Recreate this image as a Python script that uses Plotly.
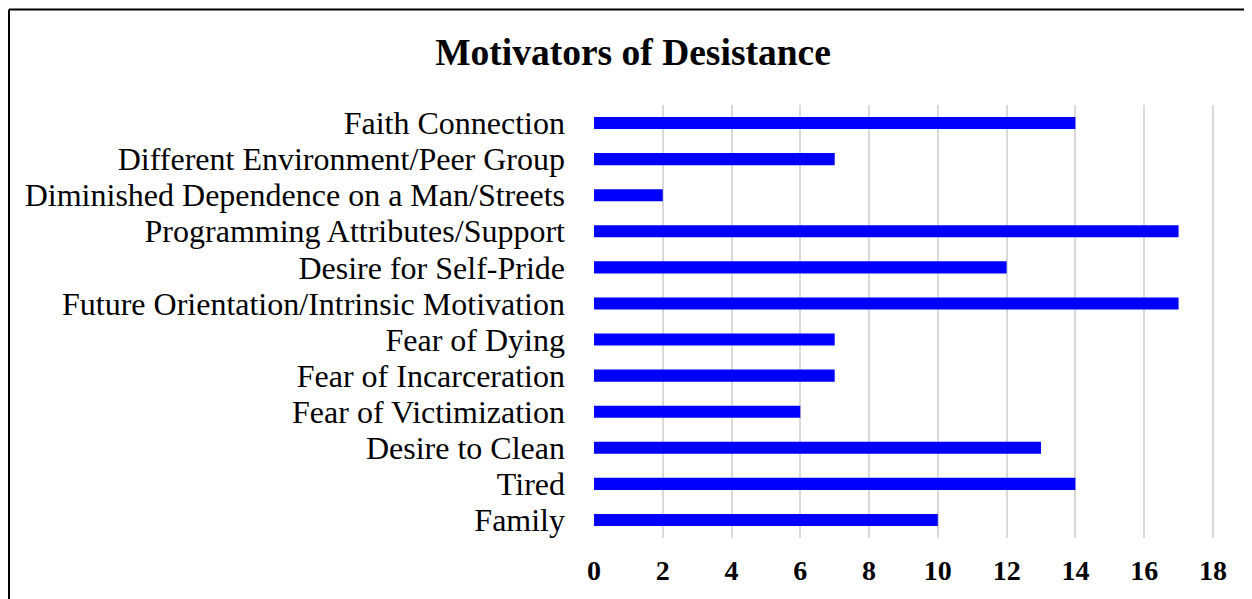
import plotly.graph_objects as go

categories = [
    "Family",
    "Tired",
    "Desire to Clean",
    "Fear of Victimization",
    "Fear of Incarceration",
    "Fear of Dying",
    "Future Orientation/Intrinsic Motivation",
    "Desire for Self-Pride",
    "Programming Attributes/Support",
    "Diminished Dependence on a Man/Streets",
    "Different Environment/Peer Group",
    "Faith Connection",
]
values = [10, 14, 13, 6, 7, 7, 17, 12, 17, 2, 7, 14]
x_ticks = [0, 2, 4, 6, 8, 10, 12, 14, 16, 18]

W, H = 1252, 599
OFF = 8  # page body margin offset
L, R, T, B = 594 - OFF, 1214 - OFF, 105 - OFF, 538 - OFF

fig = go.Figure(
    go.Bar(
        x=values,
        y=categories,
        orientation="h",
        marker=dict(color="#0000FF", line=dict(width=0)),
        hoverinfo="x+y",
    )
)


def px_to_paper_x(px):
    return (px - L) / (R - L)


def px_to_paper_y(py):
    return (B - py) / (B - T)


fig.update_layout(
    width=W,
    height=H,
    margin=dict(l=L, r=W - R, t=T, b=H - B, autoexpand=False),
    paper_bgcolor="white",
    plot_bgcolor="white",
    bargap=0.667,
    showlegend=False,
    title=dict(
        text="<b>Motivators of Desistance</b>",
        font=dict(family="Liberation Serif", size=37.5, color="black"),
        x=(633 - OFF) / W,
        xref="container",
        xanchor="center",
        y=1 - (52 - OFF) / H,
        yref="container",
        yanchor="middle",
    ),
    xaxis=dict(
        range=[0, 18.03],
        tickvals=x_ticks,
        ticktext=[f"<b>{v}</b>" for v in x_ticks],
        tickfont=dict(family="Liberation Serif", size=28, color="black"),
        showgrid=True,
        gridcolor="#d9d9d9",
        gridwidth=1.5,
        zeroline=False,
        showline=False,
        ticks="",
        ticklabelstandoff=13,
        fixedrange=True,
    ),
    yaxis=dict(
        type="category",
        tickmode="array",
        tickvals=categories,
        ticktext=categories,
        tickfont=dict(family="Liberation Serif", size=32, color="black"),
        showgrid=False,
        zeroline=False,
        showline=False,
        ticks="",
        ticklabelstandoff=28,
        fixedrange=True,
    ),
    shapes=[
        dict(type="line", xref="paper", yref="paper",
             x0=px_to_paper_x(9 - OFF), x1=px_to_paper_x(W + 5),
             y0=px_to_paper_y(9.5 - OFF), y1=px_to_paper_y(9.5 - OFF),
             line=dict(color="black", width=2)),
        dict(type="line", xref="paper", yref="paper",
             x0=px_to_paper_x(9 - OFF), x1=px_to_paper_x(9 - OFF),
             y0=px_to_paper_y(9.5 - OFF), y1=px_to_paper_y(H + 5),
             line=dict(color="black", width=2)),
    ],
)

fig.write_html("out.html")
